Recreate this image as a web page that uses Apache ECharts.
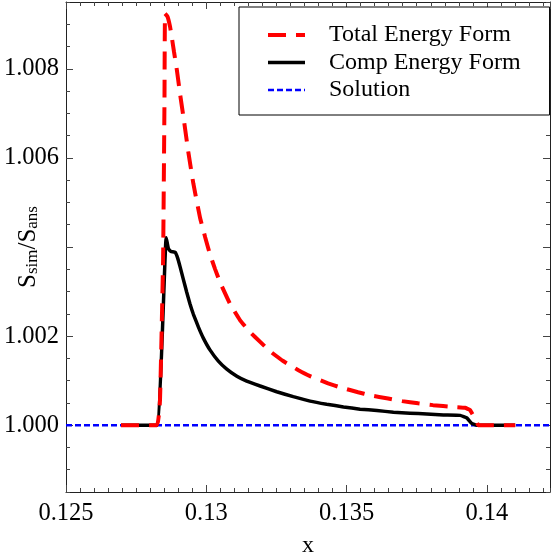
<!DOCTYPE html>
<html><head><meta charset="utf-8">
<script src="https://cdn.jsdelivr.net/npm/echarts@6/dist/echarts.min.js"></script>
<style>html,body{margin:0;padding:0;background:#fff}#c{width:551px;height:560px}</style>
</head><body><div id="c"></div>
<script>
// ---- data ----
const totalX = [0.12696,0.12824,0.12835,0.12846,0.12851,0.12853,0.12862,0.12871,0.12878,0.12885,0.12895,0.12906,0.12921,0.12936,0.12954,0.12978,0.12996,0.13013,0.13031,0.13049,0.13085,0.13120,0.13156,0.13192,0.13227,0.13274,0.13327,0.13370,0.13434,0.13477,0.13541,0.13584,0.13648,0.13698,0.13755,0.13808,0.13880,0.13922,0.13940,0.13964,0.13969,0.14101];
const totalY = [1.0,1.0,1.00056,1.00371,1.00730,1.00924,1.00917,1.00894,1.00867,1.00838,1.00798,1.00746,1.00681,1.00613,1.00542,1.00465,1.00422,1.00384,1.00351,1.00321,1.00272,1.00236,1.00209,1.00187,1.00166,1.00144,1.00124,1.00110,1.00094,1.00085,1.00074,1.00067,1.00060,1.00054,1.00049,1.00045,1.00041,1.00039,1.00034,1.00007,1.0,1.0];
const compX = [0.12696,0.12823,0.12857,0.12865,0.12874,0.12889,0.12898,0.12906,0.12918,0.12930,0.12942,0.12954,0.12972,0.12989,0.13013,0.13043,0.13073,0.13109,0.13144,0.13192,0.13251,0.13310,0.13370,0.13429,0.13489,0.13548,0.13608,0.13667,0.13726,0.13786,0.13845,0.13905,0.13929,0.13946,0.13964,0.14101];
const compY = [1.0,1.0,1.00421,1.00396,1.00390,1.00388,1.00375,1.00357,1.00328,1.00299,1.00272,1.00249,1.00220,1.00196,1.00169,1.00144,1.00126,1.00110,1.00099,1.00088,1.00075,1.00064,1.00054,1.00047,1.00041,1.00036,1.00033,1.00029,1.00027,1.00025,1.00023,1.00022,1.00016,1.00004,1.0,1.0];
const solutionX = [0.125, 0.14225];
const solutionY = [1.0, 1.0];
const seriesNames = ['Total Energy Form','Comp Energy Form','Solution'];
const xTickLabels = ['0.125','0.13','0.135','0.14'];
const yTickValues = [1.000,1.002,1.004,1.006,1.008];
const yTickLabels = [1.000,1.002,1.006,1.008];
const xRange = [0.125, 0.14225];
const yRange = [0.9985, 1.0095];

const zip = (a,b) => a.map((v,i)=>[v,b[i]]);
const FONT = 'Liberation Serif';
const lineC = '#222', tickC = '#444';

function xAx(pos, major, showLine){
  return {type:'value', position:pos, min:xRange[0], max:xRange[1],
    interval: major ? 0.005 : 0.0005,
    axisLine:{show:showLine, onZero:false, lineStyle:{color:lineC,width:1}},
    axisTick:{show:true, inside:true, length: major?7:4, lineStyle:{color:tickC,width:1}},
    axisLabel:{show:false}, splitLine:{show:false}};
}
function yAx(pos, major, showLine){
  const o = {type:'value', position:pos, min:yRange[0], max:yRange[1],
    axisLine:{show:showLine, onZero:false, lineStyle:{color:lineC,width:1}},
    axisTick:{show:true, inside:true, length: major?7:4, lineStyle:{color:tickC,width:1}},
    axisLabel:{show:false}, splitLine:{show:false}};
  if (major) { o.axisTick.customValues = yTickValues; }
  else { o.interval = 0.0005; }
  return o;
}

const xA0 = xAx('bottom', true, true);
xA0.axisLabel = {show:true, fontFamily:FONT, fontSize:24.5, color:'#000', margin:9, showMaxLabel:false,
  formatter: v => { const s = String(+(+v).toFixed(4)); return xTickLabels.includes(s) ? s : ''; }};
xA0.name = 'x'; xA0.nameLocation = 'middle'; xA0.nameGap = 42; xA0.nameMoveOverlap = false;
xA0.nameTextStyle = {fontFamily:FONT, fontSize:24, color:'#000'};

const yA0 = yAx('left', true, true);
yA0.axisLabel = {show:true, fontFamily:FONT, fontSize:24.5, color:'#000', margin:7,
  customValues: yTickLabels, formatter: v => (+v).toFixed(3)};
yA0.name = '{s|S}{sub|sim}{s|/S}{sub|ans}';
yA0.nameLocation = 'middle'; yA0.nameGap = 25; yA0.nameMoveOverlap = false;
yA0.nameTextStyle = {fontFamily:FONT, color:'#000', rich:{
  s:{fontFamily:FONT, fontSize:25, color:'#000', lineHeight:30, verticalAlign:'bottom'},
  sub:{fontFamily:FONT, fontSize:17, color:'#000', lineHeight:22, verticalAlign:'bottom'}}};

const chart = echarts.init(document.getElementById('c'), null, {renderer:'canvas'});
chart.setOption({
  animation:false,
  backgroundColor:'#fff',
  grid:{left:66, right:1, top:2, bottom:68, outerBoundsMode:'none'},
  xAxis:[xA0, xAx('bottom',false,false), xAx('top',true,true), xAx('top',false,false)],
  yAxis:[yA0, yAx('left',false,false), yAx('right',true,true), yAx('right',false,false)],
  legend:{data:seriesNames, orient:'vertical', left:239, top:7, padding:[16,29,13,27],
    itemWidth:37, itemHeight:20, itemGap:3.5, borderColor:'#000', borderWidth:1, backgroundColor:'#fff',
    itemStyle:{opacity:0}, lineStyle:{width:'inherit'},
    textStyle:{fontFamily:FONT, fontSize:24, color:'#000', padding:[0,0,0,19]}},
  series:[
    {name:seriesNames[2], type:'line', data:zip(solutionX,solutionY), symbol:'none', showSymbol:false,
      lineStyle:{color:'#0000ff', width:2.5, type:[6,3]}, itemStyle:{color:'#0000ff'}, z:2},
    {name:seriesNames[1], type:'line', data:zip(compX,compY), symbol:'none', showSymbol:false,
      smooth:0.1,
      lineStyle:{color:'#000', width:3.5}, itemStyle:{color:'#000'}, z:3},
    {name:seriesNames[0], type:'line', data:zip(totalX,totalY), symbol:'none', showSymbol:false,
      smooth:0.1,
      lineStyle:{color:'#ff0000', width:4, type:[18,10]}, itemStyle:{color:'#ff0000'}, z:4}
  ]
});
</script></body></html>
